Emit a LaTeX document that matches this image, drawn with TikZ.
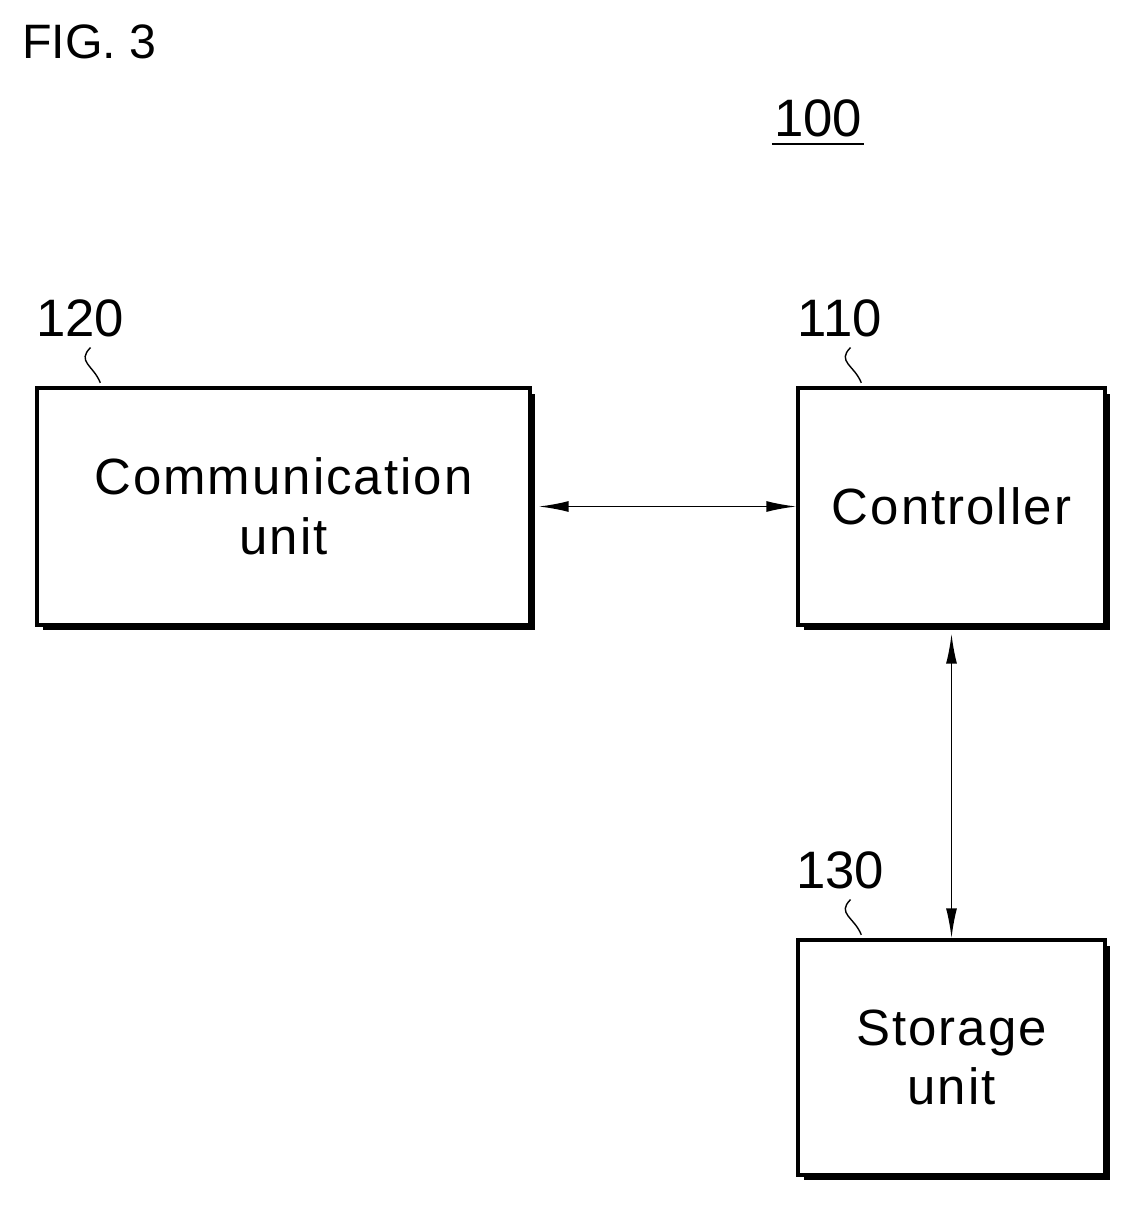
\documentclass[tikz,border=0pt]{standalone}
\usepackage{fontspec}
\setmainfont{Liberation Sans}
\usetikzlibrary{arrows.meta, shadows, positioning}
\tikzset{
  block/.style={draw=black, line width=2pt, fill=white, font=\fontsize{29}{36}\selectfont,
    align=center, inner sep=0pt,
    drop shadow={shadow xshift=0.11cm, shadow yshift=-0.11cm, fill=black, opacity=1}},
  num/.style={font=\fontsize{30}{36}\selectfont, inner sep=1pt},
  link/.style={line width=1pt, {Latex[length=0.6cm,width=0.22cm]}-{Latex[length=0.6cm,width=0.22cm]}},
  lead/.style={line width=0.8pt}
}
\begin{document}
\begin{tikzpicture}[x=0.02cm, y=-0.02cm]
  \useasboundingbox (0,0) rectangle (1133,1206);
  \node[font=\fontsize{27.5}{33}\selectfont, anchor=west] (fig) at (16,42) {FIG. 3};
  \node[num] (l100) at (818,118) {100};
  \draw[line width=1.2pt] ([yshift=-3pt]l100.south west) -- ([yshift=-3pt]l100.south east);

  % blocks
  \node[block, minimum width=9.86cm, minimum height=4.74cm] (comm) at (283.5,506.5)
    {\addfontfeatures{LetterSpace=4}Communication\\[-2pt]\addfontfeatures{LetterSpace=4}unit};
  \node[block, minimum width=6.14cm, minimum height=4.74cm] (ctrl) at (951.5,506.5)
    {\addfontfeatures{LetterSpace=4}Controller};
  \node[block, minimum width=6.14cm, minimum height=4.7cm] (stor) at (951.5,1057.5)
    {\addfontfeatures{LetterSpace=4}Storage\\[-2pt]\addfontfeatures{LetterSpace=4}unit};

  % reference numerals
  \node[num] (l120) at (80,318) {120};
  \node[num] (l110) at (840,318) {110};
  \node[num] (l130) at (840,870) {130};
  \draw[lead] ([xshift=6pt,yshift=-5pt]l120.south) .. controls +(-8pt,-8pt) and +(-4pt,10pt) .. ([xshift=37pt,yshift=2pt]comm.north west);
  \draw[lead] ([xshift=6pt,yshift=-5pt]l110.south) .. controls +(-8pt,-8pt) and +(-4pt,10pt) .. ([xshift=37pt,yshift=2pt]ctrl.north west);
  \draw[lead] ([xshift=6pt,yshift=-5pt]l130.south) .. controls +(-8pt,-8pt) and +(-4pt,10pt) .. ([xshift=37pt,yshift=2pt]stor.north west);

  % connections
  \draw[link] ([xshift=0.14cm]comm.east) -- (ctrl.west);
  \draw[link] ([yshift=-0.14cm]ctrl.south) -- (stor.north);
\end{tikzpicture}
\end{document}
